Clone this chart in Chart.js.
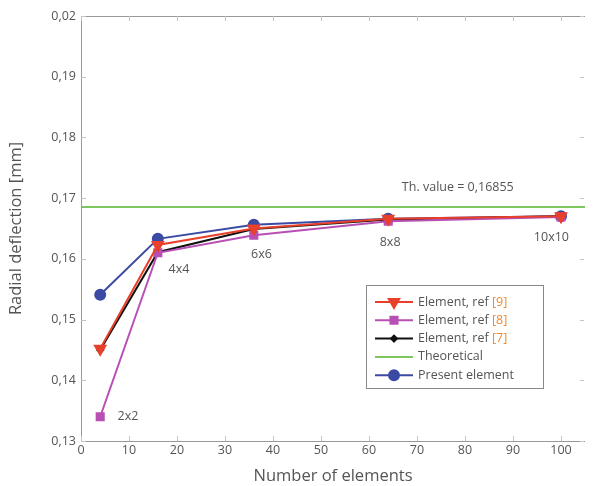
<!DOCTYPE html>
<html>
<head>
<meta charset="utf-8">
<script src="https://cdn.jsdelivr.net/npm/chart.js@4/dist/chart.umd.min.js"></script>
<style>
  html, body { margin: 0; padding: 0; background: #fff; }
  #wrap { width: 593px; height: 486px; position: relative; }
</style>
</head>
<body>
<div id="wrap"><canvas id="chart"></canvas></div>
<script>
// number of elements (2x2, 4x4, 6x6, 8x8, 10x10)
const elements = [4, 16, 36, 64, 100];
const meshNames = ['2x2', '4x4', '6x6', '8x8', '10x10'];

const ref9 = [0.1452, 0.1623, 0.1650, 0.1666, 0.1670];
const ref8 = [0.1340, 0.1610, 0.1639, 0.1662, 0.1669];
const ref7 = [0.1450, 0.1611, 0.1649, 0.1665, 0.1670];
const present = [0.1541, 0.1633, 0.1656, 0.1666, 0.1670];
const theoretical = 0.16855;

const yTickLabels = ['0,13', '0,14', '0,15', '0,16', '0,17', '0,18', '0,19', '0,02'];
const xTicks = [0, 10, 20, 30, 40, 50, 60, 70, 80, 90, 100];

// where the mesh labels sit, in data units
const meshLabelX = [9.8, 20.4, 37.6, 64.4, 98];
const meshLabelY = [0.1340, 0.1582, 0.1607, 0.1627, 0.1636];

const FONT = '"Open Sans", "Noto Sans", sans-serif';
const GREY = '#555';

const legendItems = [
  { label: 'Element, ref ', ref: '[9]', color: '#e8402a', style: 'triangle', rot: 180, r: 6 },
  { label: 'Element, ref ', ref: '[8]', color: '#b84fb4', style: 'rect', rot: 0, r: 5 },
  { label: 'Element, ref ', ref: '[7]', color: '#111111', style: 'rectRot', rot: 0, r: 3 },
  { label: 'Theoretical', ref: '', color: '#7cc85e', style: null, rot: 0, r: 0 },
  { label: 'Present element', ref: '', color: '#3b4aa3', style: 'circle', rot: 0, r: 5 }
];

const pts = arr => elements.map((x, i) => ({ x, y: arr[i] }));

const series = (arr, it) => ({
  label: it.label + it.ref,
  data: pts(arr),
  borderColor: it.color,
  backgroundColor: it.color,
  borderWidth: 2,
  pointStyle: it.style,
  pointRotation: it.rot,
  pointRadius: it.r,
  pointHoverRadius: it.r,
  tension: 0
});

const extras = {
  id: 'extras',
  afterDraw(chart) {
    const { ctx, chartArea: a, scales: { x, y } } = chart;
    ctx.save();
    // frame: left, top, bottom (right side is cut off in the original)
    ctx.strokeStyle = '#999';
    ctx.lineWidth = 1;
    ctx.beginPath();
    ctx.moveTo(a.right, a.top + 0.5);
    ctx.lineTo(a.left + 0.5, a.top + 0.5);
    ctx.lineTo(a.left + 0.5, a.bottom + 0.5);
    ctx.lineTo(a.right, a.bottom + 0.5);
    ctx.stroke();
    // inward ticks
    ctx.strokeStyle = '#c4c4c4';
    ctx.beginPath();
    xTicks.forEach(v => {
      const px = Math.round(x.getPixelForValue(v)) + 0.5;
      ctx.moveTo(px, a.bottom); ctx.lineTo(px, a.bottom - 5);
      ctx.moveTo(px, a.top); ctx.lineTo(px, a.top + 5);
    });
    for (let v = 0.13; v <= 0.2001; v += 0.01) {
      const py = Math.round(y.getPixelForValue(v)) + 0.5;
      ctx.moveTo(a.left, py); ctx.lineTo(a.left + 5, py);
      ctx.moveTo(a.right - 1, py); ctx.lineTo(a.right - 5, py);
    }
    ctx.stroke();

    // mesh labels
    ctx.fillStyle = GREY;
    ctx.font = '12.5px ' + FONT;
    ctx.textAlign = 'center';
    ctx.textBaseline = 'middle';
    meshNames.forEach((t, i) => {
      ctx.fillText(t, x.getPixelForValue(meshLabelX[i]), y.getPixelForValue(meshLabelY[i]));
    });
    ctx.fillText('Th. value = 0,16855', x.getPixelForValue(78.5), y.getPixelForValue(0.1718));

    // legend box
    const bx = 366, by = 285, bw = 177, bh = 103;
    ctx.fillStyle = '#fff';
    ctx.fillRect(bx, by, bw, bh);
    ctx.strokeStyle = '#888';
    ctx.strokeRect(bx + 0.5, by + 0.5, bw, bh);
    legendItems.forEach((it, i) => {
      const ly = by + 17 + i * 18.3;
      ctx.strokeStyle = it.color;
      ctx.lineWidth = 2;
      ctx.beginPath();
      ctx.moveTo(bx + 9, ly); ctx.lineTo(bx + 47, ly);
      ctx.stroke();
      if (it.style) {
        ctx.fillStyle = it.color;
        Chart.helpers.drawPoint(ctx, { pointStyle: it.style, radius: it.r, rotation: it.rot, borderWidth: 1 }, bx + 28, ly);
      }
      ctx.textAlign = 'left';
      ctx.fillStyle = GREY;
      ctx.font = '12.5px ' + FONT;
      ctx.fillText(it.label, bx + 52, ly);
      if (it.ref) {
        const w = ctx.measureText(it.label).width;
        ctx.fillStyle = '#f08a2c';
        ctx.fillText(it.ref, bx + 52 + w, ly);
      }
    });
    ctx.restore();
  }
};

new Chart(document.getElementById('chart'), {
  type: 'line',
  data: {
    datasets: [
      series(ref9, legendItems[0]),
      series(ref8, legendItems[1]),
      series(ref7, legendItems[2]),
      {
        label: 'Theoretical',
        data: [{ x: 0, y: theoretical }, { x: 105, y: theoretical }],
        borderColor: legendItems[3].color,
        borderWidth: 2,
        pointRadius: 0
      },
      series(present, legendItems[4])
    ]
  },
  options: {
    responsive: true,
    maintainAspectRatio: false,
    animation: false,
    layout: { padding: { top: 16, right: 0, left: 0, bottom: 0 } },
    plugins: { legend: { display: false }, tooltip: { enabled: false } },
    scales: {
      x: {
        type: 'linear',
        min: 0,
        max: 105,
        afterBuildTicks: s => { s.ticks = xTicks.map(v => ({ value: v })); },
        afterFit: s => { s.height = 45; },
        grid: { display: false, drawTicks: false, tickLength: 0 },
        border: { display: false },
        ticks: { color: GREY, font: { family: FONT, size: 12.5 }, padding: 2, maxRotation: 0 },
        title: { display: true, text: 'Number of elements', color: GREY, font: { family: FONT, size: 16.5 }, padding: { top: 0, bottom: 0 } }
      },
      y: {
        type: 'linear',
        min: 0.13,
        max: 0.20,
        afterBuildTicks: s => { s.ticks = yTickLabels.map((t, i) => ({ value: 0.13 + i * 0.01 })); },
        afterFit: s => { s.width = 81; },
        grid: { display: false, drawTicks: false, tickLength: 0 },
        border: { display: false },
        ticks: {
          color: GREY,
          font: { family: FONT, size: 12.5 },
          padding: 5,
          callback: (v, i) => yTickLabels[i]
        },
        title: { display: true, text: 'Radial deflection [mm]', color: GREY, font: { family: FONT, size: 16.5 }, padding: { top: 6, bottom: 0 } }
      }
    }
  },
  plugins: [extras]
});
</script>
</body>
</html>
